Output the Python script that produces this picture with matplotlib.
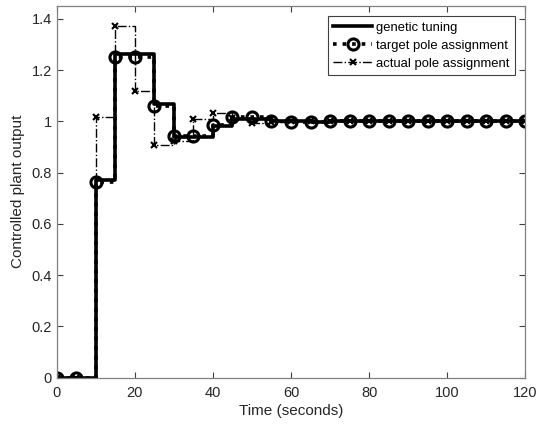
import matplotlib
matplotlib.use("Agg")
import matplotlib.pyplot as plt

plt.rcParams['font.family'] = ['Liberation Sans', 'DejaVu Sans']

time_s = [0, 5, 10, 15, 20, 25, 30, 35, 40, 45, 50, 55, 60, 65, 70, 75, 80, 85, 90, 95, 100, 105, 110, 115, 120]
genetic = [0, 0, 0.770, 1.264, 1.264, 1.068, 0.937, 0.937, 0.982, 1.010, 1.010, 1.002, 1.000, 0.999, 1.000, 1.000,
           1.000, 1.000, 1.000, 1.000, 1.000, 1.000, 1.000, 1.000, 1.000]
target = [0, 0, 0.765, 1.249, 1.249, 1.061, 0.941, 0.941, 0.985, 1.016, 1.016, 1.002, 0.998, 0.998, 1.000, 1.000,
          1.000, 1.000, 1.000, 1.000, 1.000, 1.000, 1.000, 1.000, 1.000]
actual = [0, 0, 1.016, 1.370, 1.120, 0.907, 0.922, 1.009, 1.032, 1.012, 0.992, 0.998, 1.000, 1.000, 1.000, 1.000,
          1.000, 1.000, 1.000, 1.000, 1.000, 1.000, 1.000, 1.000, 1.000]

xticks = [0, 20, 40, 60, 80, 100, 120]
yticks = [0, 0.2, 0.4, 0.6, 0.8, 1.0, 1.2, 1.4]
yticklabels = ['0', '0.2', '0.4', '0.6', '0.8', '1', '1.2', '1.4']

fig = plt.figure(figsize=(5.36, 4.26), dpi=100)
ax = fig.add_axes([0.1058, 0.1136, 0.8742, 0.8724])

ax.step(time_s, genetic, where='post', color='black', lw=2.6, label='genetic tuning')
ax.step(time_s, target, where='post', color='black', lw=2.6, ls=':', marker='o', ms=8,
        mew=2.2, mfc='none', label='target pole assignment')
ax.step(time_s, actual, where='post', color='black', lw=1.0, ls='-.', marker='x', ms=5,
        mew=1.5, label='actual pole assignment')

ax.set_xlim(0, 120)
ax.set_ylim(0, 1.45)
ax.set_xticks(xticks)
ax.set_yticks(yticks)
ax.set_yticklabels(yticklabels)
ax.tick_params(direction='in', top=True, right=True, length=4, width=0.8, colors='#404040',
               labelsize=10.5, labelcolor='#262626')
ax.tick_params(axis='x', pad=6)
for s in ax.spines.values():
    s.set_color('#808080')
    s.set_linewidth(0.9)

ax.set_xlabel('Time (seconds)', fontsize=11, color='#262626', labelpad=3)
ax.set_ylabel('Controlled plant output', fontsize=11, color='#262626', labelpad=5)

leg = ax.legend(loc='upper right', fontsize=9.4, handlelength=3.0, numpoints=1, fancybox=False,
                framealpha=1, edgecolor='#404040', borderpad=0.4, labelspacing=0.45,
                handletextpad=0.3, borderaxespad=0.8)
leg.get_frame().set_linewidth(0.8)

fig.savefig('out.png', dpi=100)
